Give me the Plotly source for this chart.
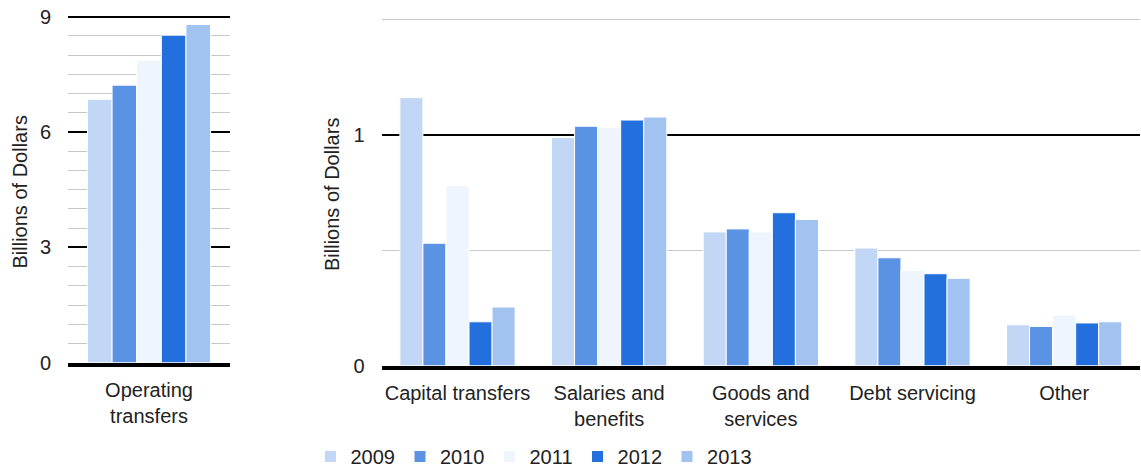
import plotly.graph_objects as go

# Spending by year, billions of dollars
years = ["2009", "2010", "2011", "2012", "2013"]
colors = ["#c2d7f5", "#5b93e4", "#eef5fe", "#236fde", "#a2c2f0"]

op_category = ["Operating<br>transfers"]
op_values = {
    "2009": [6.85],
    "2010": [7.22],
    "2011": [7.87],
    "2012": [8.52],
    "2013": [8.80],
}

other_categories = [
    "Capital transfers",
    "Salaries and<br>benefits",
    "Goods and<br>services",
    "Debt servicing",
    "Other",
]
other_values = {
    "2009": [1.160, 0.987, 0.579, 0.509, 0.177],
    "2010": [0.530, 1.036, 0.592, 0.467, 0.170],
    "2011": [0.779, 1.030, 0.579, 0.413, 0.219],
    "2012": [0.190, 1.063, 0.662, 0.398, 0.185],
    "2013": [0.254, 1.076, 0.633, 0.378, 0.190],
}

FONT = "Liberation Sans, Arial, sans-serif"
TXT = "#222222"

fig = go.Figure()
for yr, col in zip(years, colors):
    fig.add_trace(go.Bar(
        x=op_category, y=op_values[yr], name=yr, legendgroup=yr,
        marker=dict(color=col, line=dict(color="white", width=1)),
        xaxis="x", yaxis="y", showlegend=False,
    ))
for yr, col in zip(years, colors):
    fig.add_trace(go.Bar(
        x=other_categories, y=other_values[yr], name=yr, legendgroup=yr,
        marker=dict(color=col, line=dict(color="white", width=1)),
        xaxis="x2", yaxis="y2", showlegend=True,
    ))

xcommon = dict(
    showgrid=False, showline=True, linecolor="black", linewidth=4,
    ticks="", ticklabelstandoff=6, automargin=False,
    tickfont=dict(size=20, color=TXT, family=FONT), fixedrange=True,
)
ycommon = dict(
    showgrid=True, gridcolor="black", gridwidth=1.5, zeroline=False,
    ticks="", ticklabelstandoff=16, automargin=False,
    tickfont=dict(size=20, color=TXT, family=FONT),
    minor=dict(dtick=0.5, showgrid=True, gridcolor="#c8c8c8", gridwidth=1),
    fixedrange=True,
)

fig.update_layout(
    template="none",
    width=1141, height=476,
    margin=dict(l=0, r=0, t=0, b=0, pad=0),
    paper_bgcolor="white", plot_bgcolor="white",
    font=dict(family=FONT, size=20, color=TXT),
    barmode="group", bargap=0.24, bargroupgap=0,
    xaxis=dict(domain=[0.0596, 0.2016], anchor="y", **xcommon),
    yaxis=dict(domain=[0.2380, 0.9730], anchor="x", range=[0, 9.1],
               tickvals=[0, 3, 6, 9], **ycommon),
    xaxis2=dict(domain=[0.3345, 0.9991], anchor="y2", **xcommon),
    yaxis2=dict(domain=[0.2317, 0.9697], anchor="x2", range=[0, 1.52],
                tickvals=[0, 1], **ycommon),
    legend=dict(
        orientation="h", x=534 / 1141, xanchor="center", y=0, yanchor="bottom",
        font=dict(size=20, color=TXT, family=FONT), bgcolor="rgba(0,0,0,0)",
        traceorder="normal",
    ),
    annotations=[
        dict(text="Billions of Dollars", x=19.5 / 1141, y=1 - 192 / 476,
             xref="paper", yref="paper", xanchor="center", yanchor="middle",
             textangle=-90, showarrow=False,
             font=dict(size=20, color=TXT, family=FONT)),
        dict(text="Billions of Dollars", x=332 / 1141, y=1 - 195 / 476,
             xref="paper", yref="paper", xanchor="center", yanchor="middle",
             textangle=-90, showarrow=False,
             font=dict(size=20, color=TXT, family=FONT)),
    ],
)

fig.write_html("out.html")
